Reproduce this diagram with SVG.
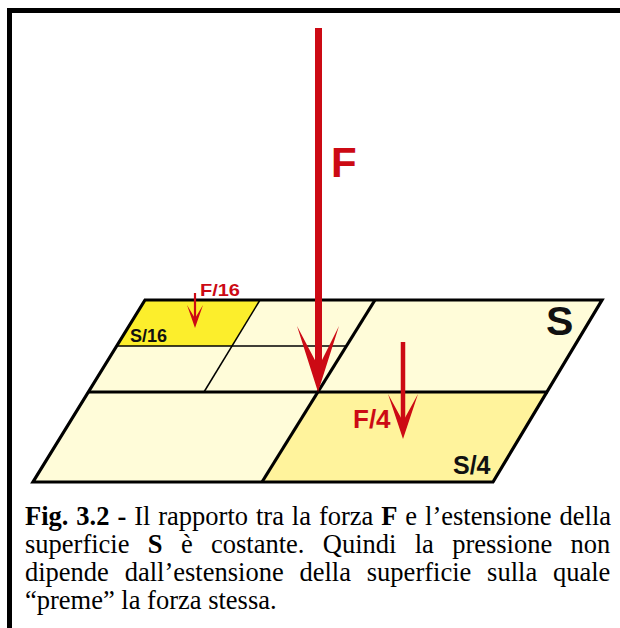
<svg xmlns="http://www.w3.org/2000/svg" width="620" height="628" viewBox="0 0 620 628">
<style>
.edge{fill:none;stroke:#000;stroke-width:3.2;stroke-linejoin:miter}
.thin{fill:none;stroke:#000;stroke-width:1.5}
.red{fill:#cc0a14}
.shaft{stroke:#cc0a14;fill:none}
.lblR{font-family:"Liberation Sans",Arial,sans-serif;font-weight:bold;fill:#cc0a14}
.lblK{font-family:"Liberation Sans",Arial,sans-serif;font-weight:bold;fill:#111}
.cap{font-family:"Liberation Serif","Times New Roman",serif;font-size:26.5px;fill:#000}
.b{font-weight:bold}
</style>
<rect width="620" height="628" fill="#fff"/>
<g id="frame">
<rect x="7" y="8" width="613" height="5" fill="#000"/>
<rect x="7" y="8" width="5" height="620" fill="#000"/>
</g>
<g id="plate">
<polygon points="145,300 602,300 493,482 33,482" fill="#fffcd9"/>
<polygon id="cell-s16" points="145,300 260,300 232,346 117,346" fill="#fcee2c"/>
<polygon id="cell-s4" points="318,392 548,392 493,482 262,482" fill="#fff39c"/>
<line class="thin" x1="117" y1="346" x2="346" y2="346"/>
<line class="thin" x1="260" y1="300" x2="204" y2="392"/>
<line class="edge" x1="88" y1="392" x2="548" y2="392"/>
<line class="edge" x1="375" y1="300" x2="262" y2="482"/>
<polygon class="edge" points="145,300 602,300 493,482 33,482"/>
</g>
<g id="arrows">
<g id="arrow-F">
<line class="shaft" x1="318.5" y1="28" x2="318.5" y2="372" stroke-width="7"/>
<polygon class="red" points="297,326 318,392 339,326 320,364 317,364"/>
</g>
<g id="arrow-F16">
<line class="shaft" x1="195" y1="293" x2="195" y2="320" stroke-width="2.2"/>
<polygon class="red" points="187,305 195,328 203,305 195.8,317 194.2,317"/>
</g>
<g id="arrow-F4">
<line class="shaft" x1="403" y1="342" x2="403" y2="425" stroke-width="4.5"/>
<polygon class="red" points="388,394 403,439 418,394 404.3,419 401.7,419"/>
</g>
</g>
<g id="labels">
<text class="lblR" x="331" y="177" font-size="42">F</text>
<text class="lblK" x="546" y="335" font-size="41">S</text>
<text class="lblR" x="200" y="296" font-size="17" textLength="40" lengthAdjust="spacingAndGlyphs">F/16</text>
<text class="lblK" x="130" y="342" font-size="18">S/16</text>
<text class="lblR" x="353" y="428" font-size="26">F/4</text>
<text class="lblK" x="453" y="474" font-size="25">S/4</text>
</g>
<g id="caption">
<text class="cap" x="25" y="525" word-spacing="1.3"><tspan class="b">Fig. 3.2 -</tspan> Il rapporto tra la forza <tspan class="b">F</tspan> e l’estensione della</text>
<text class="cap" x="25" y="553" word-spacing="11.7">superficie <tspan class="b">S</tspan> è costante. Quindi la pressione non</text>
<text class="cap" x="25" y="581" word-spacing="9.2">dipende dall’estensione della superficie sulla quale</text>
<text class="cap" x="25" y="609">“preme” la forza stessa.</text>
</g>
</svg>
